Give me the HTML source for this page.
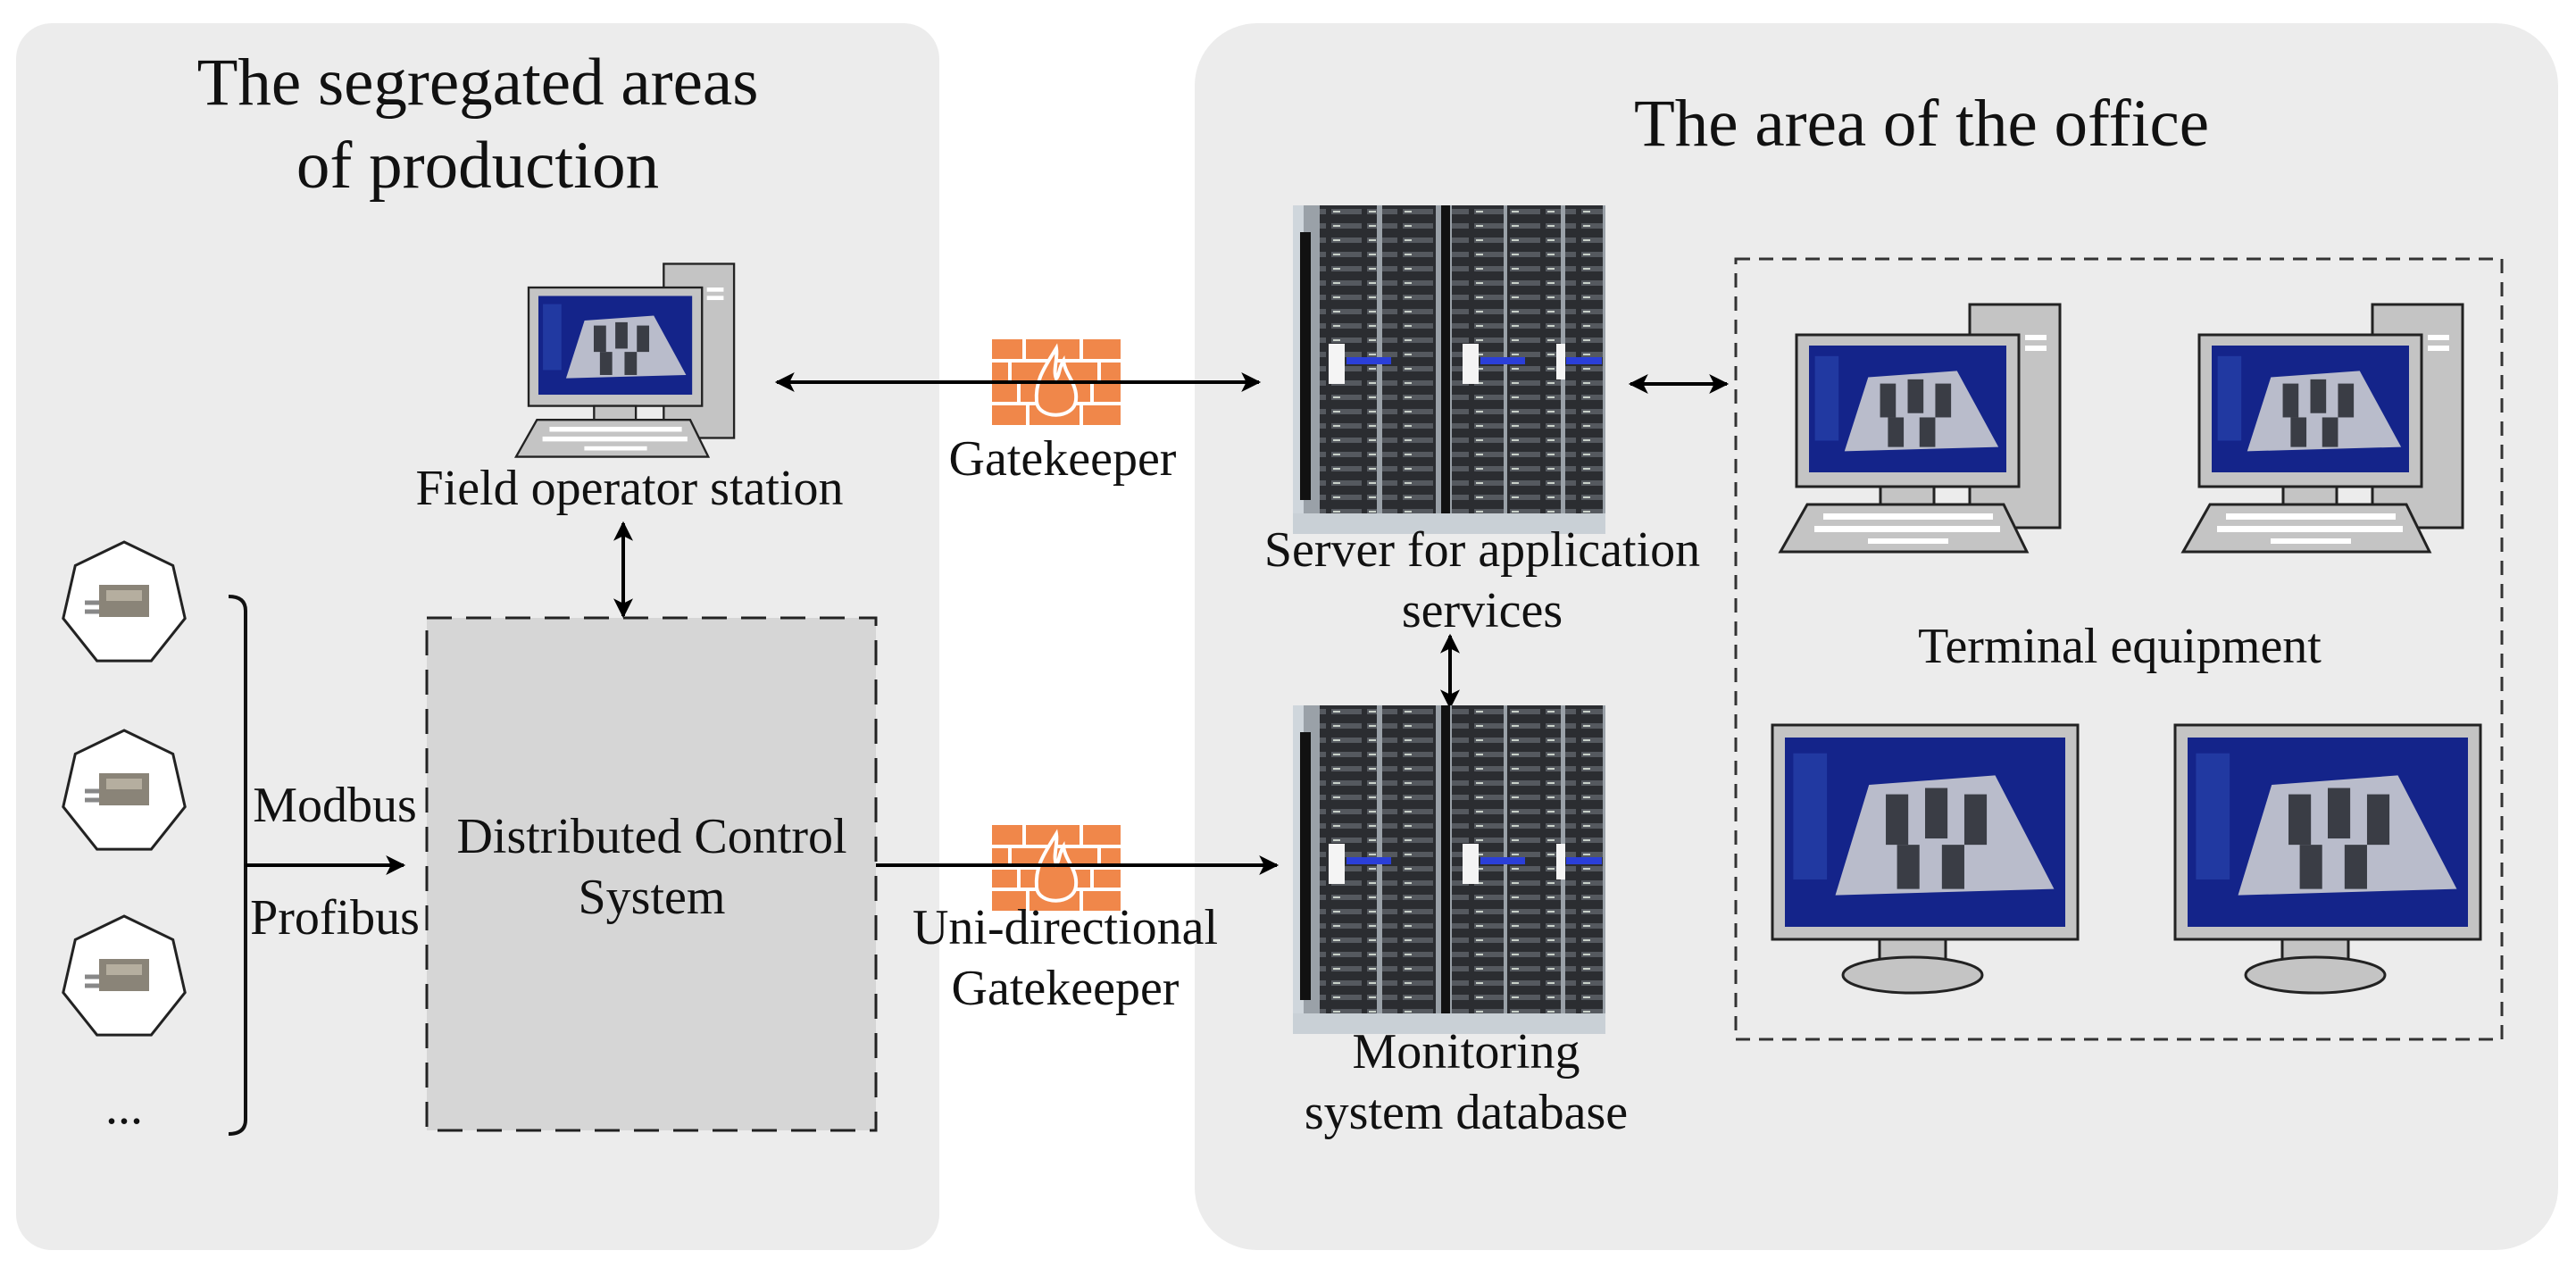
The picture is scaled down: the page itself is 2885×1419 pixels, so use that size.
<!DOCTYPE html>
<html><head><meta charset="utf-8"><style>
html,body{margin:0;padding:0;background:#fff}
svg{display:block}
text{font-family:"Liberation Serif",serif;fill:#111}
</style></head><body>
<svg width="2885" height="1419" viewBox="0 0 2885 1419" xmlns="http://www.w3.org/2000/svg">
<defs>
<marker id="ah" viewBox="0 0 10 10" refX="9" refY="5" markerWidth="26" markerHeight="22" markerUnits="userSpaceOnUse" orient="auto-start-reverse">
<path d="M0,0 L10,5 L0,10 L2.5,5 z" fill="#000"/></marker>
<pattern id="slots" width="40" height="16" patternUnits="userSpaceOnUse">
<rect width="40" height="16" fill="#2b2d31"/><rect x="3" y="4" width="34" height="6" fill="#55595f"/><rect x="5" y="6" width="8" height="2" fill="#c8d0c8"/></pattern>
<g id="rack">
<rect x="0" y="0" width="350" height="368" fill="#9aa1a8"/>
<rect x="0" y="0" width="12" height="368" fill="#cfd6dc"/>
<rect x="8" y="30" width="12" height="300" fill="#111"/>
<rect x="30" y="0" width="64" height="350" fill="url(#slots)"/>
<rect x="100" y="0" width="60" height="355" fill="url(#slots)"/>
<rect x="166" y="0" width="10" height="358" fill="#111"/>
<rect x="178" y="0" width="58" height="350" fill="url(#slots)"/>
<rect x="240" y="0" width="60" height="352" fill="url(#slots)"/>
<rect x="305" y="0" width="42" height="348" fill="url(#slots)"/>
<rect x="40" y="155" width="18" height="45" fill="#f4f4f4"/><rect x="60" y="170" width="50" height="8" fill="#2b3fd8"/>
<rect x="190" y="155" width="18" height="45" fill="#f4f4f4"/><rect x="210" y="170" width="50" height="8" fill="#2b3fd8"/>
<rect x="295" y="155" width="10" height="40" fill="#f4f4f4"/><rect x="306" y="170" width="40" height="8" fill="#2b3fd8"/>
<rect x="0" y="345" width="350" height="23" fill="#c9d0d6"/>
</g>
<g id="screen">
<rect x="0" y="0" width="100" height="60" fill="#14248a"/>
<polygon points="18,50 30,15 75,12 96,48" fill="#b9bccb"/>
<rect x="36" y="18" width="8" height="16" fill="#3a3d45"/><rect x="50" y="16" width="8" height="16" fill="#3a3d45"/><rect x="64" y="18" width="8" height="16" fill="#3a3d45"/>
<rect x="40" y="34" width="8" height="14" fill="#3a3d45"/><rect x="56" y="34" width="8" height="14" fill="#3a3d45"/>
<rect x="3" y="5" width="12" height="40" fill="#2a47b0" opacity=".6"/>
</g>
<g id="pc">
<rect x="194" y="-34" width="101" height="250" fill="#c4c4c4" stroke="#222" stroke-width="3"/>
<rect x="256" y="0" width="24" height="6" fill="#fff"/><rect x="256" y="12" width="24" height="6" fill="#fff"/>
<rect x="0" y="0" width="249" height="170" fill="#c4c4c4" stroke="#222" stroke-width="3"/>
<svg x="14" y="12" width="221" height="142" viewBox="0 0 100 60" preserveAspectRatio="none"><use href="#screen"/></svg>
<rect x="94" y="170" width="60" height="20" fill="#c4c4c4" stroke="#222" stroke-width="3"/>
<polygon points="-18,243 258,243 232,190 12,190" fill="#c4c4c4" stroke="#222" stroke-width="3"/>
<g fill="#fff"><rect x="30" y="200" width="190" height="7"/><rect x="20" y="214" width="208" height="7"/><rect x="80" y="228" width="90" height="6"/></g>
</g>
<g id="mon">
<rect x="0" y="0" width="342" height="240" fill="#c4c4c4" stroke="#222" stroke-width="3"/>
<svg x="14" y="14" width="314" height="212" viewBox="0 0 100 60" preserveAspectRatio="none"><use href="#screen"/></svg>
<rect x="120" y="240" width="74" height="30" fill="#c4c4c4" stroke="#222" stroke-width="3"/>
<ellipse cx="157" cy="280" rx="78" ry="20" fill="#c4c4c4" stroke="#222" stroke-width="3"/>
</g>
<g id="fw">
<rect x="0" y="0" width="144" height="96" fill="#f0874a"/>
<g stroke="#fff" stroke-width="4"><line x1="0" y1="24" x2="144" y2="24"/><line x1="0" y1="48" x2="144" y2="48"/><line x1="0" y1="72" x2="144" y2="72"/>
<line x1="36" y1="0" x2="36" y2="24"/><line x1="100" y1="0" x2="100" y2="24"/><line x1="20" y1="24" x2="20" y2="48"/><line x1="120" y1="24" x2="120" y2="48"/><line x1="30" y1="48" x2="30" y2="72"/><line x1="112" y1="48" x2="112" y2="72"/><line x1="40" y1="72" x2="40" y2="96"/><line x1="100" y1="72" x2="100" y2="96"/></g>
<path d="M72,10 C60,30 48,45 50,70 C52,90 92,90 94,68 C96,50 82,40 80,24 C74,34 76,40 72,44 C68,34 74,22 72,10 z" fill="#f0874a" stroke="#fff" stroke-width="4"/>
</g>
<g id="sensor">
<polygon points="0,-70 54.7,-43.6 68.2,15.6 30.4,63.1 -30.4,63.1 -68.2,15.6 -54.7,-43.6" fill="#fff" stroke="#222" stroke-width="3"/>
<rect x="-28" y="-22" width="56" height="36" fill="#8a8478"/><rect x="-20" y="-16" width="40" height="12" fill="#b5ae9f"/>
<line x1="-44" y1="-2" x2="-28" y2="-2" stroke="#888" stroke-width="5"/><line x1="-44" y1="8" x2="-28" y2="8" stroke="#888" stroke-width="5"/>
</g>
</defs>

<rect x="18" y="26" width="1034" height="1374" rx="40" fill="#ececec"/>
<rect x="1338" y="26" width="1527" height="1374" rx="70" fill="#ececec"/>

<text x="535" y="117" font-size="75" text-anchor="middle">The segregated areas</text>
<text x="535" y="210" font-size="75" text-anchor="middle">of production</text>
<text x="2152" y="163" font-size="75" text-anchor="middle">The area of the office</text>

<g transform="translate(592,322) scale(0.78)"><use href="#pc"/></g>
<text x="705" y="565" font-size="56" text-anchor="middle">Field operator station</text>

<use href="#fw" x="1111" y="380"/>
<line x1="870" y1="428" x2="1410" y2="428" stroke="#000" stroke-width="4" marker-start="url(#ah)" marker-end="url(#ah)"/>
<text x="1190" y="532" font-size="56" text-anchor="middle">Gatekeeper</text>

<line x1="698" y1="586" x2="698" y2="690" stroke="#000" stroke-width="4" marker-start="url(#ah)" marker-end="url(#ah)"/>

<rect x="478" y="692" width="503" height="574" fill="#d6d6d6" stroke="#222" stroke-width="3" stroke-dasharray="28,16"/>
<text x="730" y="955" font-size="56" text-anchor="middle">Distributed Control</text>
<text x="730" y="1023" font-size="56" text-anchor="middle">System</text>

<use href="#sensor" x="139" y="677"/>
<use href="#sensor" x="139" y="888"/>
<use href="#sensor" x="139" y="1096"/>
<text x="139" y="1258" font-size="56" text-anchor="middle">...</text>

<path d="M256,668 Q275,668 275,684 L275,1254 Q275,1270 256,1270" fill="none" stroke="#111" stroke-width="4"/>
<line x1="275" y1="969" x2="452" y2="969" stroke="#000" stroke-width="4" marker-end="url(#ah)"/>
<text x="375" y="920" font-size="56" text-anchor="middle">Modbus</text>
<text x="375" y="1046" font-size="56" text-anchor="middle">Profibus</text>

<use href="#fw" x="1111" y="924"/>
<line x1="981" y1="969" x2="1430" y2="969" stroke="#000" stroke-width="4" marker-end="url(#ah)"/>
<text x="1193" y="1057" font-size="56" text-anchor="middle">Uni-directional</text>
<text x="1193" y="1125" font-size="56" text-anchor="middle">Gatekeeper</text>

<use href="#rack" x="1448" y="230"/>
<text x="1660" y="634" font-size="56" text-anchor="middle">Server for application</text>
<text x="1660" y="702" font-size="56" text-anchor="middle">services</text>
<line x1="1624" y1="712" x2="1624" y2="792" stroke="#000" stroke-width="4" marker-start="url(#ah)" marker-end="url(#ah)"/>
<use href="#rack" x="1448" y="790"/>
<text x="1642" y="1196" font-size="56" text-anchor="middle">Monitoring</text>
<text x="1642" y="1264" font-size="56" text-anchor="middle">system database</text>

<line x1="1826" y1="430" x2="1934" y2="430" stroke="#000" stroke-width="4" marker-start="url(#ah)" marker-end="url(#ah)"/>

<rect x="1944" y="290" width="858" height="874" fill="none" stroke="#333" stroke-width="3" stroke-dasharray="16,10"/>
<use href="#pc" x="2012" y="375"/>
<use href="#pc" x="2463" y="375"/>
<text x="2374" y="742" font-size="56" text-anchor="middle">Terminal equipment</text>
<use href="#mon" x="1985" y="812"/>
<use href="#mon" x="2436" y="812"/>
</svg>
</body></html>
